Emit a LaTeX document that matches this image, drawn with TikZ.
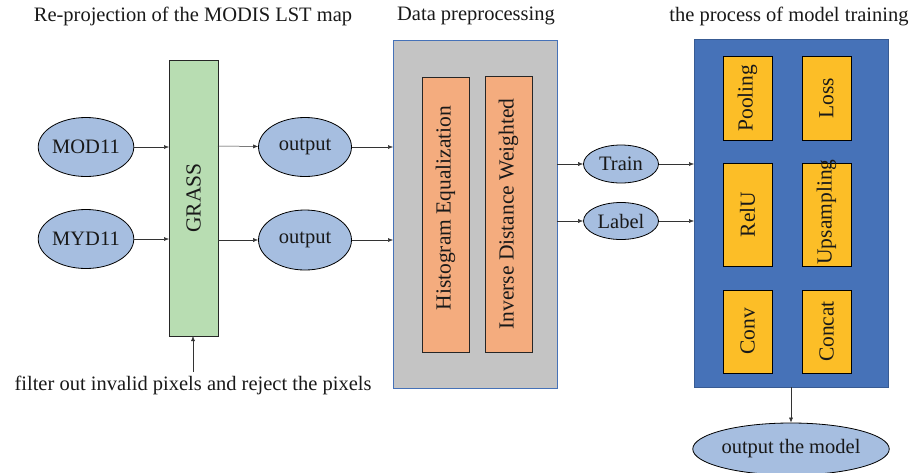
\documentclass[tikz,border=0pt]{standalone}
\usepackage{fontspec}
\setmainfont{Liberation Serif}
\usetikzlibrary{arrows.meta,shapes.geometric}
\definecolor{ellfill}{HTML}{A6BEE0}
\definecolor{grassfill}{HTML}{B8DDB2}
\definecolor{grayfill}{HTML}{C4C4C4}
\definecolor{orangefill}{HTML}{F4AC7E}
\definecolor{bluebox}{HTML}{4672B8}
\definecolor{yellowfill}{HTML}{FCBE27}
\begin{document}
\begin{tikzpicture}[x=1pt,y=-1pt,
  every node/.style={font=\fontsize{20.5}{24}\selectfont, text=black!90},
  ell/.style={ellipse, draw=black, line width=0.8pt, fill=ellfill, inner sep=0pt},
  title/.style={font=\fontsize{20.5}{24}\selectfont},
  arr/.style={-{Latex[length=5pt,width=4pt]}, line width=0.5pt, draw=black!80},
  obox/.style={draw=black!85, line width=0.9pt, fill=orangefill},
  ybox/.style={draw=black, line width=0.9pt, fill=yellowfill},
  vtxt/.style={rotate=90, font=\fontsize{21.5}{24}\selectfont}
]
\useasboundingbox (0,0) rectangle (916,472);
% titles
\node[title] (t1) at (193,16) {Re-projection of the MODIS LST map};
\node[title] (t2) at (476,16) {Data preprocessing};
\node[title] (t3) at (789,16) {the process of model training};

% left ellipses
\node[ell, minimum width=94pt, minimum height=59pt] (mod) at (86,147) {MOD11};
\node[ell, minimum width=94pt, minimum height=59pt] (myd) at (86,239) {MYD11};

% GRASS
\draw[draw=black!85, line width=0.9pt, fill=grassfill] (169,60) rectangle (218,336);
\node[vtxt] (grass) at (193.5,198) {GRASS};
\coordinate (grassL1) at (169,147);
\coordinate (grassL2) at (169,239);
\coordinate (grassR1) at (218,146);
\coordinate (grassR2) at (218,240);
\coordinate (grassB) at (193,336);
\coordinate (filterTop) at (193,372);

\node[ell, minimum width=93pt, minimum height=59pt] (out1) at (305,147) {output};
\node[ell, minimum width=93pt, minimum height=60pt] (out2) at (305,240) {output};

\draw[arr] (mod) -- (grassL1);
\draw[arr] (myd) -- (grassL2);
\draw[arr] (grassR1) -- (out1);
\draw[arr] (grassR2) -- (out2);
\draw[arr] (filterTop) -- (grassB);
\node (filter) at (193,385) {filter out invalid pixels and reject the pixels};

% gray box
\draw[draw=bluebox, line width=0.8pt, fill=grayfill] (393,40) rectangle (557,388);
\coordinate (grayL1) at (393,147);
\coordinate (grayL2) at (393,240);
\coordinate (grayR1) at (557,164);
\coordinate (grayR2) at (557,221);
\draw[obox] (422,77) rectangle (469,352);
\node[vtxt] (hist) at (445.5,208) {Histogram Equalization};
\draw[obox] (485,76) rectangle (532,352);
\node[vtxt] (idw) at (508.5,214) {Inverse Distance Weighted};
\draw[arr] (out1) -- (grayL1);
\draw[arr] (out2) -- (grayL2);

% train/label
\node[ell, minimum width=75pt, minimum height=38pt] (train) at (621,164) {Train};
\node[ell, minimum width=75pt, minimum height=37pt] (label) at (621,221) {Label};
\draw[arr] (grayR1) -- (train);
\draw[arr] (grayR2) -- (label);

% blue box
\draw[draw=bluebox!80!black, line width=0.5pt, fill=bluebox] (694,39) rectangle (888,387);
\coordinate (blueL1) at (694,164);
\coordinate (blueL2) at (694,221);
\coordinate (blueB) at (791,387);
\draw[arr] (train) -- (blueL1);
\draw[arr] (label) -- (blueL2);

\draw[ybox] (723,56) rectangle (772,140);
\node[vtxt] (pool) at (747.5,98) {Pooling};
\draw[ybox] (802,56) rectangle (851,140);
\node[vtxt] (loss) at (826.5,98) {Loss};
\draw[ybox] (723,163) rectangle (772,266);
\node[vtxt] (relu) at (747.5,214.5) {RelU};
\draw[ybox] (802,163) rectangle (851,266);
\node[vtxt] (ups) at (826.5,212) {Upsampling};
\draw[ybox] (723,290) rectangle (772,373);
\node[vtxt] (conv) at (747.5,331.5) {Conv};
\draw[ybox] (802,290) rectangle (851,373);
\node[vtxt] (concat) at (826.5,331.5) {Concat};

\node[ell, minimum width=184pt, minimum height=52pt] (outm) at (791,449) {output the model};
\draw[arr] (blueB) -- (outm);
\end{tikzpicture}
\end{document}
